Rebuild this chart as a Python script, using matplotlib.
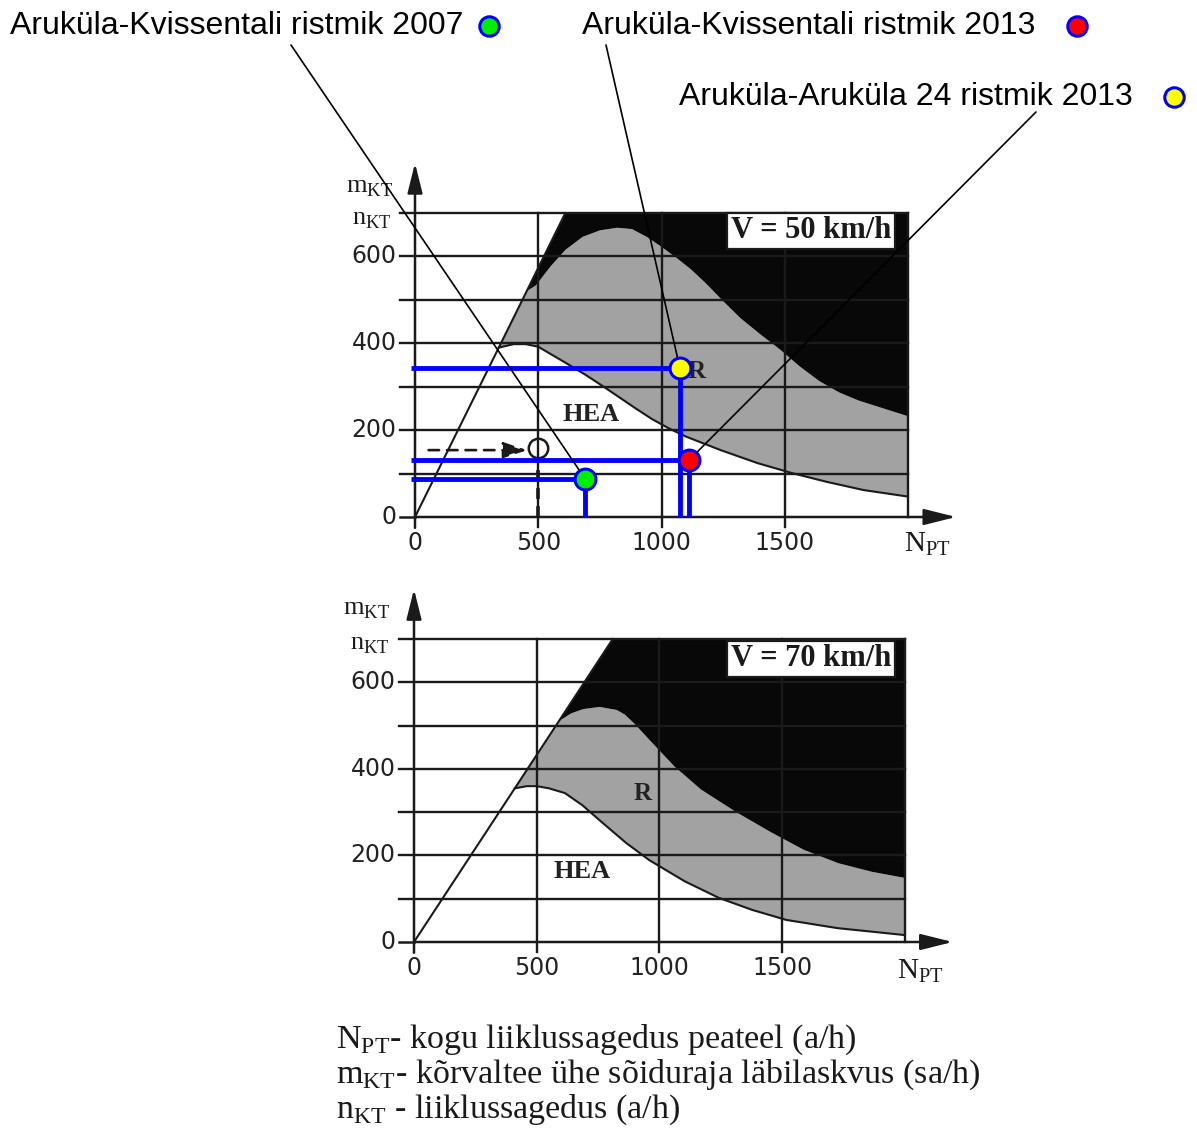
import numpy as np
import matplotlib
matplotlib.use('Agg')
import matplotlib.pyplot as plt
from matplotlib.patches import ConnectionPatch
from matplotlib.lines import Line2D

plt.rcParams['mathtext.fontset'] = 'custom'
plt.rcParams['mathtext.rm'] = 'Liberation Serif'
plt.rcParams['mathtext.bf'] = 'Liberation Serif:bold'

# ---- data ----
# V = 50 km/h
diag50 = [0, 610]            # capacity line reaches 700 at this N_PT
top50_x = [453, 490, 550, 610, 680, 750, 820, 880, 940, 1000, 1060, 1120, 1180, 1250,
           1320, 1400, 1480, 1560, 1640, 1720, 1800, 1900, 2000]
top50_y = [520, 533, 577, 615, 645, 660, 666, 663, 645, 622, 597, 570, 538, 497,
           458, 421, 386, 347, 313, 287, 268, 250, 232]
hea50_x = [340, 400, 450, 500, 560, 620, 690, 760, 820, 890, 960, 1030, 1100,
           1240, 1390, 1530, 1670, 1820, 2000]
hea50_y = [390, 398, 398, 392, 372, 352, 328, 302, 279, 252, 226, 204, 185,
           154, 124, 101, 81, 62, 47]

# V = 70 km/h
diag70 = [0, 810]
top70_x = [590, 640, 690, 756, 826, 860, 897, 979, 1062, 1170, 1313, 1450, 1588, 1729, 1867, 2000]
top70_y = [510, 528, 538, 543, 536, 525, 505, 455, 405, 352, 300, 255, 213, 182, 162, 148]
hea70_x = [411, 460, 500, 550, 615, 686, 769, 864, 959, 1104, 1242, 1379, 1517, 1726, 2000]
hea70_y = [355, 360, 360, 355, 344, 316, 275, 229, 189, 140, 102, 74, 51, 32, 16]

# measured intersections
names = ['Aruküla-Kvissentali ristmik 2007', 'Aruküla-Kvissentali ristmik 2013',
         'Aruküla-Aruküla 24 ristmik 2013']
colors = ['#00ee00', '#ff0000', '#ffff00']
pt_x = [690, 1112, 1075]
pt_y = [88, 131, 342]

xticks = [0, 500, 1000, 1500]
yticks = [0, 200, 400, 600]

W, H = 1197, 1129
fig = plt.figure(figsize=(W / 100, H / 100), dpi=100)

INK = '#1a1a1a'
GRAY = '#a2a2a2'
SERIF = 'Liberation Serif'


def rect(x0, kx, y0, ky, xlim, ylim):
    left = x0 + xlim[0] * kx
    right = x0 + xlim[1] * kx
    top = y0 - ylim[1] * ky
    bottom = y0 - ylim[0] * ky
    return [left / W, 1 - bottom / H, (right - left) / W, (bottom - top) / H]


XL, YL = (-320, 2350), (-110, 830)


def panel(ax, diag, tx, ty, hx, hy, speed, hea_pos, r_pos, box_pos, lab_y, npt_pos):
    ax.set_xlim(XL)
    ax.set_ylim(YL)
    ax.axis('off')
    # regions
    ax.fill(hx + tx[::-1], hy + ty[::-1], color=GRAY, lw=0, zorder=1)
    ax.fill(tx + [2000, diag[1]], ty + [700, 700], color='#080808', lw=0, zorder=1.5)
    # grid
    for y in range(100, 701, 100):
        ax.plot([-60, 2000], [y, y], color=INK, lw=1.7, zorder=2)
    for x in [500, 1000, 1500]:
        ax.plot([x, x], [-22, 700], color=INK, lw=1.7, zorder=2)
    ax.plot([2000, 2000], [0, 700], color=INK, lw=1.7, zorder=2)
    # curves
    ax.plot(diag, [0, 700], color=INK, lw=1.5, zorder=2.5)
    ax.plot(hx, hy, color=INK, lw=1.5, zorder=2.5)
    # axes with arrows
    ax.plot([-60, 0], [0, 0], color=INK, lw=1.8, zorder=3)
    ax.annotate('', xy=(2195, 0), xytext=(0, 0),
                arrowprops=dict(arrowstyle='-|>,head_length=1.4,head_width=0.35',
                                mutation_scale=14, lw=1.8, color=INK, shrinkA=0, shrinkB=0),
                zorder=3)
    ax.annotate('', xy=(0, 815), xytext=(0, -25),
                arrowprops=dict(arrowstyle='-|>,head_length=1.4,head_width=0.35',
                                mutation_scale=13, lw=1.8, color=INK, shrinkA=0, shrinkB=0),
                zorder=3)
    for x in xticks:
        ax.text(x, -60, str(x), ha='center', va='center', fontsize=17,
                family='DejaVu Sans', color='#222222')
    for y in yticks:
        ax.text(-75, y, str(y), ha='right', va='center', fontsize=17,
                family='DejaVu Sans', color='#222222')
    ax.text(lab_y[0][0], lab_y[0][1], r'$\mathrm{m}_{\mathrm{KT}}$', ha='center', va='center',
            fontsize=19, color=INK)
    ax.text(lab_y[1][0], lab_y[1][1], r'$\mathrm{n}_{\mathrm{KT}}$', ha='center', va='center',
            fontsize=19, color=INK)
    ax.text(npt_pos[0], npt_pos[1], r'$\mathrm{N}_{\mathrm{PT}}$', ha='left', va='center',
            fontsize=21, color=INK)
    ax.text(box_pos[0], box_pos[1], speed, ha='center', va='center', fontsize=22,
            family=SERIF, weight='bold', color=INK, zorder=4,
            bbox=dict(boxstyle='square,pad=0.12', fc='white', ec=INK, lw=1.6))
    ax.text(hea_pos[0], hea_pos[1], 'HEA', ha='center', va='center', fontsize=19,
            family=SERIF, weight='bold', color='#222222', zorder=3)
    ax.text(r_pos[0], r_pos[1], 'R', ha='center', va='center', fontsize=18,
            family=SERIF, weight='bold', color='#222222', zorder=3)


ax1 = fig.add_axes(rect(415, 0.2465, 517, 0.4343, XL, YL))
panel(ax1, diag50, top50_x, top50_y, hea50_x, hea50_y, 'V = 50 km/h',
      (714, 235), (1144, 334), (1606, 659), [(-183, 762), (-174, 688)], (1985, -62))

ax2 = fig.add_axes(rect(414, 0.2454, 942, 0.4329, XL, YL))
panel(ax2, diag70, top70_x, top70_y, hea70_x, hea70_y, 'V = 70 km/h',
      (685, 162), (933, 344), (1618, 654), [(-192, 771), (-179, 690)], (1968, -67))

# example reading: dashed arrow and circle at N_PT = 500
ax1.annotate('', xy=(455, 154), xytext=(55, 154),
             arrowprops=dict(arrowstyle='-|>,head_length=1.2,head_width=0.4', mutation_scale=12,
                             lw=1.9, ls=(0, (4, 3)), color=INK, shrinkA=0, shrinkB=0), zorder=3)
ax1.plot([500, 500], [0, 135], color=INK, lw=2.6, ls=(0, (3, 2)), zorder=3)
ax1.plot([500], [158], marker='o', ms=14, mfc='none', mec=INK, mew=1.8, zorder=3)

# blue readings
for x, y, c in zip(pt_x, pt_y, colors):
    ax1.plot([-16, x], [y, y], color='#0000ff', lw=3.5, zorder=5, solid_capstyle='butt')
    ax1.plot([x, x], [0, y], color='#0000ff', lw=3.5, zorder=5, solid_capstyle='butt')
    ax1.plot([x], [y], marker='o', ms=15, mfc=c, mec='#0000ff', mew=2.2, zorder=8)

# top labels
label_pos = [(10, 26), (582, 26), (679, 97)]
legend_dot = [(489, 26), (1077, 26), (1174, 97)]
line_start = [(291, 45), (606, 45), (1036, 112)]
line_target = [0, 2, 1]
for name, (lx, ly), (dx, dy), c in zip(names, label_pos, legend_dot, colors):
    fig.text(lx / W, 1 - ly / H, name, ha='left', va='center', fontsize=23,
             family='Liberation Sans', color='black')
    fig.add_artist(Line2D([dx / W], [1 - dy / H], transform=fig.transFigure, marker='o',
                          ms=14, mfc=c, mec='#0000ff', mew=2.2))
for (sx, sy), i in zip(line_start, line_target):
    con = ConnectionPatch(xyA=(sx, H - sy), coordsA='figure pixels',
                          xyB=(pt_x[i], pt_y[i]), coordsB=ax1.transData,
                          color='black', lw=1.2, zorder=6)
    con.set_clip_on(False)
    ax1.add_artist(con)

# explanation of symbols
notes = [r'N$_{\mathrm{PT}}$- kogu liiklussagedus peateel (a/h)',
         r'm$_{\mathrm{KT}}$- kõrvaltee ühe sõiduraja läbilaskvus (sa/h)',
         r'n$_{\mathrm{KT}}$ - liiklussagedus (a/h)']
for i, t in enumerate(notes):
    fig.text(336 / W, 1 - (1040 + 35 * i) / H, t, ha='left', va='center', fontsize=24.5,
             family=SERIF, color=INK)

fig.savefig('out.png', dpi=100, facecolor='white')
